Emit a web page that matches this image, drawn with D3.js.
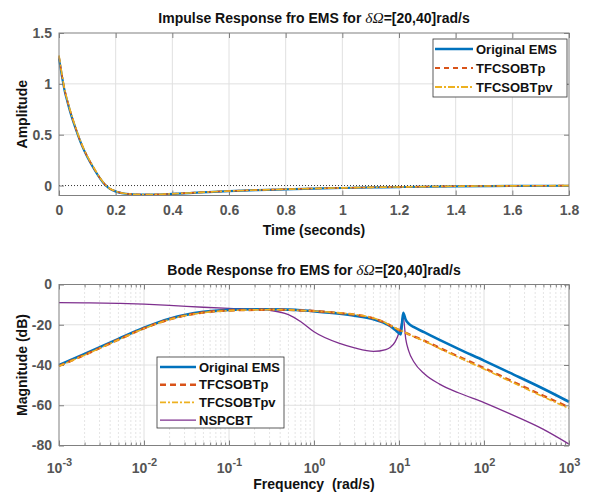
<!DOCTYPE html>
<html><head><meta charset="utf-8">
<script src="https://cdn.jsdelivr.net/npm/d3@7/dist/d3.min.js"></script>
<style>
body{margin:0;background:#fff}
text{font-family:"Liberation Sans",Arial,sans-serif}
</style>
</head><body>
<svg id="c" width="592" height="494"></svg>
<script>
// ---------- DATA ----------
const timeS = [0,0.01,0.02,0.03,0.04,0.06,0.08,0.1,0.12,0.14,0.16,0.17,0.18,0.2,0.25,0.3,0.35,0.4,0.5,0.6,0.7,0.8,0.9,1.0,1.1,1.2,1.4,1.6,1.8];
const impOriginal  = [1.25,1.08,0.93,0.82,0.72,0.55,0.40,0.28,0.18,0.09,0.015,-0.012,-0.033,-0.058,-0.084,-0.09,-0.088,-0.082,-0.068,-0.055,-0.045,-0.037,-0.03,-0.024,-0.019,-0.015,-0.008,-0.004,-0.002];
const impTFCSOBTp  = [1.27,1.09,0.94,0.83,0.73,0.555,0.405,0.285,0.185,0.093,0.017,-0.011,-0.032,-0.057,-0.083,-0.089,-0.087,-0.081,-0.067,-0.054,-0.044,-0.036,-0.029,-0.023,-0.018,-0.014,-0.007,-0.003,-0.001];
const impTFCSOBTpv = [1.28,1.10,0.945,0.835,0.735,0.56,0.41,0.29,0.19,0.096,0.019,-0.01,-0.031,-0.057,-0.083,-0.089,-0.087,-0.081,-0.067,-0.054,-0.044,-0.036,-0.029,-0.023,-0.018,-0.014,-0.007,-0.003,-0.001];

const freq = [0.001,0.002,0.005,0.01,0.02,0.05,0.1,0.2,0.3,0.5,0.7,1,2,3,5,7,8,9,10,10.5,11.2,12,13,15,20,30,50,100,200,500,1000];
const magOriginal  = [-40,-34.5,-27,-21.5,-17,-13.6,-12.6,-12.3,-12.3,-12.5,-12.8,-13.3,-14.5,-15.5,-17.3,-19.5,-20.8,-22.5,-24.2,-24.8,-14,-17.5,-19.5,-21.2,-23.8,-27.5,-32,-37.8,-43.8,-51.8,-58.3];
const magTFCSOBTp  = [-40.5,-35,-27.4,-21.8,-17.3,-13.9,-12.9,-12.6,-12.5,-12.6,-12.9,-13.2,-14.2,-15,-16.8,-19.2,-20.5,-21.6,-22.6,-23,-23.5,-24,-24.7,-25.8,-28,-31.5,-35.8,-41.5,-47.5,-55.3,-61];
const magTFCSOBTpv = [-40.6,-35.1,-27.5,-21.9,-17.4,-14,-13,-12.6,-12.5,-12.6,-12.9,-13.2,-14.1,-14.9,-16.7,-19.1,-20.4,-21.5,-22.5,-22.9,-23.4,-24,-24.8,-26,-28.2,-31.8,-36.2,-42,-48,-55.8,-61.6];
const magNSPCBT    = [-9,-9.1,-9.4,-9.8,-10.4,-11.3,-11.9,-12.3,-12.8,-15,-18.5,-23.5,-29.3,-31.5,-33.2,-32.3,-31,-28.5,-24,-21,-16,-27,-33,-38.5,-44.5,-49.5,-53.8,-58.7,-64.2,-72,-79.3];

const timeTicks = [0,0.2,0.4,0.6,0.8,1,1.2,1.4,1.6,1.8];
const ampTicks = [0,0.5,1,1.5];
const freqTicks = [1e-3,1e-2,1e-1,1e0,1e1,1e2,1e3];
const magTicks = [-80,-60,-40,-20,0];

const impNames = ["Original EMS","TFCSOBTp","TFCSOBTpv"];
const bodeNames = ["Original EMS","TFCSOBTp","TFCSOBTpv","NSPCBT"];

// ---------- STYLE ----------
const colors = {"Original EMS":"#0072BD","TFCSOBTp":"#D95319","TFCSOBTpv":"#EDB120","NSPCBT":"#7E2F8E"};
const svg = d3.select("#c");
const L = 59, R = 569;
const axisCol = "#808080", labCol = "#555", gridCol = "#e0e0e0";
const tickFont = "14px", labFont = "14px", legFont = "13px";

// ---------- TOP: impulse ----------
const x1 = d3.scaleLinear().domain([0,1.8]).range([L,R]);
const y1 = d3.scaleLinear().domain([-0.098,1.5]).range([195.5,33]);

const g1 = svg.append("g");
g1.selectAll(".gx").data(timeTicks.slice(1,-1)).enter().append("line")
  .attr("x1",d=>x1(d)).attr("x2",d=>x1(d)).attr("y1",y1.range()[0]).attr("y2",y1.range()[1])
  .attr("stroke",gridCol).attr("stroke-width",1);
g1.selectAll(".gy").data(ampTicks.slice(1,-1)).enter().append("line")
  .attr("y1",d=>y1(d)).attr("y2",d=>y1(d)).attr("x1",L).attr("x2",R)
  .attr("stroke",gridCol).attr("stroke-width",1);
g1.append("line").attr("x1",L).attr("x2",R).attr("y1",y1(0)).attr("y2",y1(0))
  .attr("stroke","#000").attr("stroke-width",0.8).attr("stroke-dasharray","1,2");

function styleAxis(sel){
  sel.select(".domain").remove();
  sel.selectAll(".tick line").attr("stroke",axisCol);
  sel.selectAll(".tick text").attr("fill",labCol).style("font-size",tickFont).style("font-weight","bold");
}
const fmtT = d => String(d);
g1.append("g").attr("transform",`translate(0,${y1.range()[0]})`)
  .call(d3.axisBottom(x1).tickValues(timeTicks).tickFormat(fmtT).tickSizeInner(-5).tickSizeOuter(0).tickPadding(10)).call(styleAxis);
g1.append("g").attr("transform",`translate(0,${y1.range()[1]})`)
  .call(d3.axisTop(x1).tickValues(timeTicks).tickFormat("").tickSizeInner(-5).tickSizeOuter(0)).call(styleAxis);
g1.append("g").attr("transform",`translate(${L},0)`)
  .call(d3.axisLeft(y1).tickValues(ampTicks).tickFormat(d=>String(d)).tickSizeInner(-5).tickSizeOuter(0).tickPadding(7)).call(styleAxis);
g1.append("g").attr("transform",`translate(${R},0)`)
  .call(d3.axisRight(y1).tickValues(ampTicks).tickFormat("").tickSizeInner(-5).tickSizeOuter(0)).call(styleAxis);

const impData = {"Original EMS":impOriginal,"TFCSOBTp":impTFCSOBTp,"TFCSOBTpv":impTFCSOBTpv};
const impStyle = {"Original EMS":{w:2.2,d:null},"TFCSOBTp":{w:1.6,d:"5,4"},"TFCSOBTpv":{w:1.6,d:"7,2,2,2"}};
const line1 = d3.line().x(d=>x1(d[0])).y(d=>y1(d[1])).curve(d3.curveMonotoneX);
impNames.forEach(n=>{
  g1.append("path").datum(timeS.map((t,i)=>[t,impData[n][i]]))
    .attr("d",line1).attr("fill","none").attr("stroke",colors[n])
    .attr("stroke-width",impStyle[n].w).attr("stroke-dasharray",impStyle[n].d);
});
g1.append("rect").attr("x",L).attr("y",33).attr("width",R-L).attr("height",195.5-33)
  .attr("fill","none").attr("stroke",axisCol).attr("stroke-width",1);

function title(y, text1, text2, cx){
  const t = svg.append("text").attr("x",cx).attr("y",y).attr("text-anchor","middle")
    .style("font-size","14px").style("font-weight","bold").attr("fill","#111");
  t.append("tspan").text(text1);
  t.append("tspan").text("δΩ").style("font-family","'Liberation Serif',serif").style("font-weight","normal").style("font-style","italic").style("font-size","15.5px");
  t.append("tspan").text(text2);
}
title(23,"Impulse Response fro EMS for ","=[20,40]rad/s",(L+R)/2);
svg.append("text").attr("x",(L+R)/2).attr("y",235).attr("text-anchor","middle")
  .style("font-size",labFont).style("font-weight","bold").attr("fill","#111").text("Time (seconds)");
svg.append("text").attr("transform",`translate(27,${(33+195.5)/2}) rotate(-90)`).attr("text-anchor","middle")
  .style("font-size",labFont).style("font-weight","bold").attr("fill","#111").text("Amplitude");

const lg1 = svg.append("g");
lg1.append("rect").attr("x",433).attr("y",39).attr("width",134).attr("height",58).attr("fill","#fff").attr("stroke","#333").attr("stroke-width",0.8);
impNames.forEach((n,i)=>{
  const yy = 49 + i*19;
  lg1.append("line").attr("x1",435).attr("x2",473).attr("y1",yy).attr("y2",yy)
    .attr("stroke",colors[n]).attr("stroke-width",impStyle[n].w+0.4).attr("stroke-dasharray",impStyle[n].d);
  lg1.append("text").attr("x",476).attr("y",yy+4.5).style("font-size",legFont).style("font-weight","bold").attr("fill","#111").text(n);
});

// ---------- BOTTOM: bode ----------
const x2 = d3.scaleLog().domain([1e-3,1e3]).range([L,R]);
const y2 = d3.scaleLinear().domain([-80,0]).range([445.5,284.5]);
const g2 = svg.append("g");
const minor = [];
for(let e=-3;e<3;e++) for(let k=2;k<10;k++) minor.push(k*Math.pow(10,e));
g2.selectAll(".mg").data(minor).enter().append("line")
  .attr("x1",d=>x2(d)).attr("x2",d=>x2(d)).attr("y1",y2.range()[0]).attr("y2",y2.range()[1])
  .attr("stroke","#bdbdbd").attr("stroke-width",0.8).attr("stroke-dasharray","1,3");
g2.selectAll(".gx").data(freqTicks.slice(1,-1)).enter().append("line")
  .attr("x1",d=>x2(d)).attr("x2",d=>x2(d)).attr("y1",y2.range()[0]).attr("y2",y2.range()[1])
  .attr("stroke",gridCol).attr("stroke-width",1);
g2.selectAll(".gy").data(magTicks.slice(1,-1)).enter().append("line")
  .attr("y1",d=>y2(d)).attr("y2",d=>y2(d)).attr("x1",L).attr("x2",R)
  .attr("stroke",gridCol).attr("stroke-width",1);

const bx = g2.append("g").attr("transform",`translate(0,${y2.range()[0]})`)
  .call(d3.axisBottom(x2).tickValues(freqTicks).tickFormat("").tickSizeInner(-5).tickSizeOuter(0)).call(styleAxis);
g2.append("g").attr("transform",`translate(0,${y2.range()[0]})`)
  .call(d3.axisBottom(x2).tickValues(minor).tickFormat("").tickSizeInner(-3).tickSizeOuter(0)).call(styleAxis);
g2.append("g").attr("transform",`translate(0,${y2.range()[1]})`)
  .call(d3.axisTop(x2).tickValues(freqTicks).tickFormat("").tickSizeInner(-5).tickSizeOuter(0)).call(styleAxis);
g2.append("g").attr("transform",`translate(0,${y2.range()[1]})`)
  .call(d3.axisTop(x2).tickValues(minor).tickFormat("").tickSizeInner(-3).tickSizeOuter(0)).call(styleAxis);
bx.selectAll(".tick").each(function(d){
  const e = Math.round(Math.log10(d));
  const t = d3.select(this).append("text").attr("y",27).attr("text-anchor","middle")
    .attr("fill",labCol).style("font-size",tickFont).style("font-weight","bold");
  t.append("tspan").text("10");
  t.append("tspan").attr("dy",-7).style("font-size","11px").text(String(e));
});
g2.append("g").attr("transform",`translate(${L},0)`)
  .call(d3.axisLeft(y2).tickValues(magTicks).tickFormat(d=>String(d)).tickSizeInner(-5).tickSizeOuter(0).tickPadding(7)).call(styleAxis);
g2.append("g").attr("transform",`translate(${R},0)`)
  .call(d3.axisRight(y2).tickValues(magTicks).tickFormat("").tickSizeInner(-5).tickSizeOuter(0)).call(styleAxis);

const magData = {"Original EMS":magOriginal,"TFCSOBTp":magTFCSOBTp,"TFCSOBTpv":magTFCSOBTpv,"NSPCBT":magNSPCBT};
const bodeStyle = {"Original EMS":{w:2.6,d:null},"TFCSOBTp":{w:2.4,d:"6,4"},"TFCSOBTpv":{w:1.6,d:"6,2,2,2"},"NSPCBT":{w:1.3,d:null}};
const line2 = d3.line().x(d=>x2(d[0])).y(d=>y2(d[1])).curve(d3.curveMonotoneX);
["NSPCBT","Original EMS","TFCSOBTp","TFCSOBTpv"].forEach(n=>{
  g2.append("path").datum(freq.map((f,i)=>[f,magData[n][i]]))
    .attr("d",line2).attr("fill","none").attr("stroke",colors[n])
    .attr("stroke-width",bodeStyle[n].w).attr("stroke-dasharray",bodeStyle[n].d);
});
g2.append("rect").attr("x",L).attr("y",284.5).attr("width",R-L).attr("height",445.5-284.5)
  .attr("fill","none").attr("stroke",axisCol).attr("stroke-width",1);

title(275,"Bode Response fro EMS for ","=[20,40]rad/s",(L+R)/2);
svg.append("text").attr("x",(L+R)/2).attr("y",489).attr("text-anchor","middle")
  .style("font-size",labFont).style("font-weight","bold").attr("fill","#111").attr("xml:space","preserve").text("Frequency  (rad/s)");
svg.append("text").attr("transform",`translate(27,${(284.5+445.5)/2}) rotate(-90)`).attr("text-anchor","middle")
  .style("font-size",labFont).style("font-weight","bold").attr("fill","#111").text("Magnitude (dB)");

const lg2 = svg.append("g");
lg2.append("rect").attr("x",157).attr("y",357).attr("width",127).attr("height",71).attr("fill","#fff").attr("stroke","#333").attr("stroke-width",0.8);
bodeNames.forEach((n,i)=>{
  const yy = 367 + i*17.7;
  lg2.append("line").attr("x1",160).attr("x2",196).attr("y1",yy).attr("y2",yy)
    .attr("stroke",colors[n]).attr("stroke-width",bodeStyle[n].w).attr("stroke-dasharray",bodeStyle[n].d);
  lg2.append("text").attr("x",199).attr("y",yy+4.5).style("font-size",legFont).style("font-weight","bold").attr("fill","#111").text(n);
});
</script>
</body></html>
